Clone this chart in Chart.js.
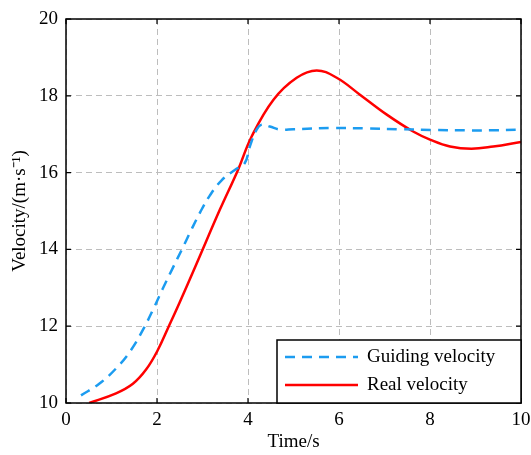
<!DOCTYPE html>
<html>
<head>
<meta charset="utf-8">
<script src="https://cdn.jsdelivr.net/npm/chart.js@4"></script>
<style>
  html, body { margin: 0; padding: 0; background: #fff; }
  #wrap { width: 531px; height: 455px; }
</style>
</head>
<body>
<div id="wrap"><canvas id="chart" width="531" height="455"></canvas></div>
<script>
// values
const tGuide = [0.33, 0.73, 1.1, 1.43, 1.72, 1.94, 2.12, 2.34, 2.56, 2.73, 2.95, 3.16, 3.42, 3.71, 3.93, 4.04, 4.19, 4.3, 4.48, 4.7, 5.0, 5.87, 6.6, 7.34, 8.1, 8.8, 9.3, 10];
const vGuide = [10.2, 10.5, 10.9, 11.38, 11.97, 12.5, 12.96, 13.5, 14.03, 14.45, 14.97, 15.4, 15.8, 16.07, 16.25, 16.68, 17.12, 17.25, 17.2, 17.12, 17.13, 17.16, 17.15, 17.13, 17.11, 17.1, 17.1, 17.12];

const tReal = [0.51, 1.1, 1.47, 1.76, 2.01, 2.26, 2.49, 2.86, 3.38, 3.78, 4.08, 4.56, 5.07, 5.51, 5.95, 6.46, 7.05, 7.63, 8.0, 8.44, 8.91, 9.39, 10];
const vReal = [10.0, 10.25, 10.5, 10.87, 11.36, 12.0, 12.6, 13.6, 15.03, 16.07, 16.94, 17.9, 18.47, 18.66, 18.47, 18.03, 17.51, 17.07, 16.86, 16.68, 16.62, 16.68, 16.8];

const seriesNames = ['Guiding velocity', 'Real velocity'];
const xTicks = [0, 2, 4, 6, 8, 10];
const yTicks = [10, 12, 14, 16, 18, 20];

const serif = "'Liberation Serif', 'Times New Roman', serif";

function toPoints(xs, ys) {
	return xs.map((x, i) => ({ x: x, y: ys[i] }));
}

// box, inner tick marks and legend like the matlab figure
const boxPlugin = {
	id: 'boxPlugin',
	afterDraw(chart) {
		const ctx = chart.ctx;
		const a = chart.chartArea;
		const xs = chart.scales.x;
		const ys = chart.scales.y;
		ctx.save();
		ctx.strokeStyle = '#000';
		ctx.lineWidth = 1.2;
		ctx.setLineDash([]);
		ctx.beginPath();
		for (const v of xTicks) {
			const px = xs.getPixelForValue(v);
			ctx.moveTo(px, a.bottom); ctx.lineTo(px, a.bottom - 5);
			ctx.moveTo(px, a.top); ctx.lineTo(px, a.top + 5);
		}
		for (const v of yTicks) {
			const py = ys.getPixelForValue(v);
			ctx.moveTo(a.left, py); ctx.lineTo(a.left + 5, py);
			ctx.moveTo(a.right, py); ctx.lineTo(a.right - 5, py);
		}
		ctx.stroke();
		ctx.lineWidth = 1.5;
		ctx.strokeRect(a.left, a.top, a.right - a.left, a.bottom - a.top);

		// legend
		const w = 244, h = 63;
		const lx = a.right - w, ly = a.bottom - h;
		ctx.fillStyle = '#fff';
		ctx.fillRect(lx, ly, w, h);
		ctx.strokeRect(lx, ly, w, h);
		ctx.font = '19px ' + serif;
		ctx.textBaseline = 'middle';
		chart.data.datasets.forEach((ds, i) => {
			const y = ly + 17 + i * 28;
			ctx.strokeStyle = ds.borderColor;
			ctx.lineWidth = 2.5;
			ctx.setLineDash(ds.borderDash || []);
			ctx.beginPath();
			ctx.moveTo(lx + 8, y);
			ctx.lineTo(lx + 81, y);
			ctx.stroke();
			ctx.setLineDash([]);
			ctx.fillStyle = '#000';
			ctx.fillText(ds.label, lx + 90, y);
		});
		ctx.restore();
	}
};

new Chart(document.getElementById('chart'), {
	type: 'line',
	data: {
		datasets: [
			{
				label: seriesNames[0],
				data: toPoints(tGuide, vGuide),
				borderColor: '#1c9cf0',
				borderWidth: 2.5,
				borderDash: [10, 7],
				pointRadius: 0,
				tension: 0.4,
				fill: false,
			},
			{
				label: seriesNames[1],
				data: toPoints(tReal, vReal),
				borderColor: '#ff0000',
				borderWidth: 2.5,
				pointRadius: 0,
				tension: 0.4,
				fill: false,
			},
		],
	},
	options: {
		responsive: false,
		animation: false,
		layout: { padding: { top: 19, right: 10, left: 0, bottom: 0 } },
		plugins: { legend: { display: false }, tooltip: { enabled: false } },
		scales: {
			x: {
				type: 'linear',
				min: 0,
				max: 10,
				afterBuildTicks: (s) => { s.ticks = xTicks.map((v) => ({ value: v })); },
				afterFit: (s) => { s.height = 52; s.paddingLeft = 0; s.paddingRight = 0; },
				ticks: { color: '#000', font: { family: serif, size: 19 }, padding: 6, maxRotation: 0 },
				grid: { color: '#bdbdbd', lineWidth: 1, drawTicks: false },
				border: { display: false, dash: [6, 4] },
				title: { display: true, text: 'Time/s', color: '#000', font: { family: serif, size: 19 }, padding: { top: 0, bottom: 2 } },
			},
			y: {
				min: 10,
				max: 20,
				afterBuildTicks: (s) => { s.ticks = yTicks.map((v) => ({ value: v })); },
				afterFit: (s) => { s.width = 66; s.paddingTop = 0; s.paddingBottom = 0; },
				ticks: { color: '#000', font: { family: serif, size: 19 }, padding: 8 },
				grid: { color: '#bdbdbd', lineWidth: 1, drawTicks: false },
				border: { display: false, dash: [6, 4] },
				title: { display: true, text: 'Velocity/(m·s⁻¹)', color: '#000', font: { family: serif, size: 19 }, padding: { top: 9, bottom: 0 } },
			},
		},
	},
	plugins: [boxPlugin],
});
</script>
</body>
</html>
